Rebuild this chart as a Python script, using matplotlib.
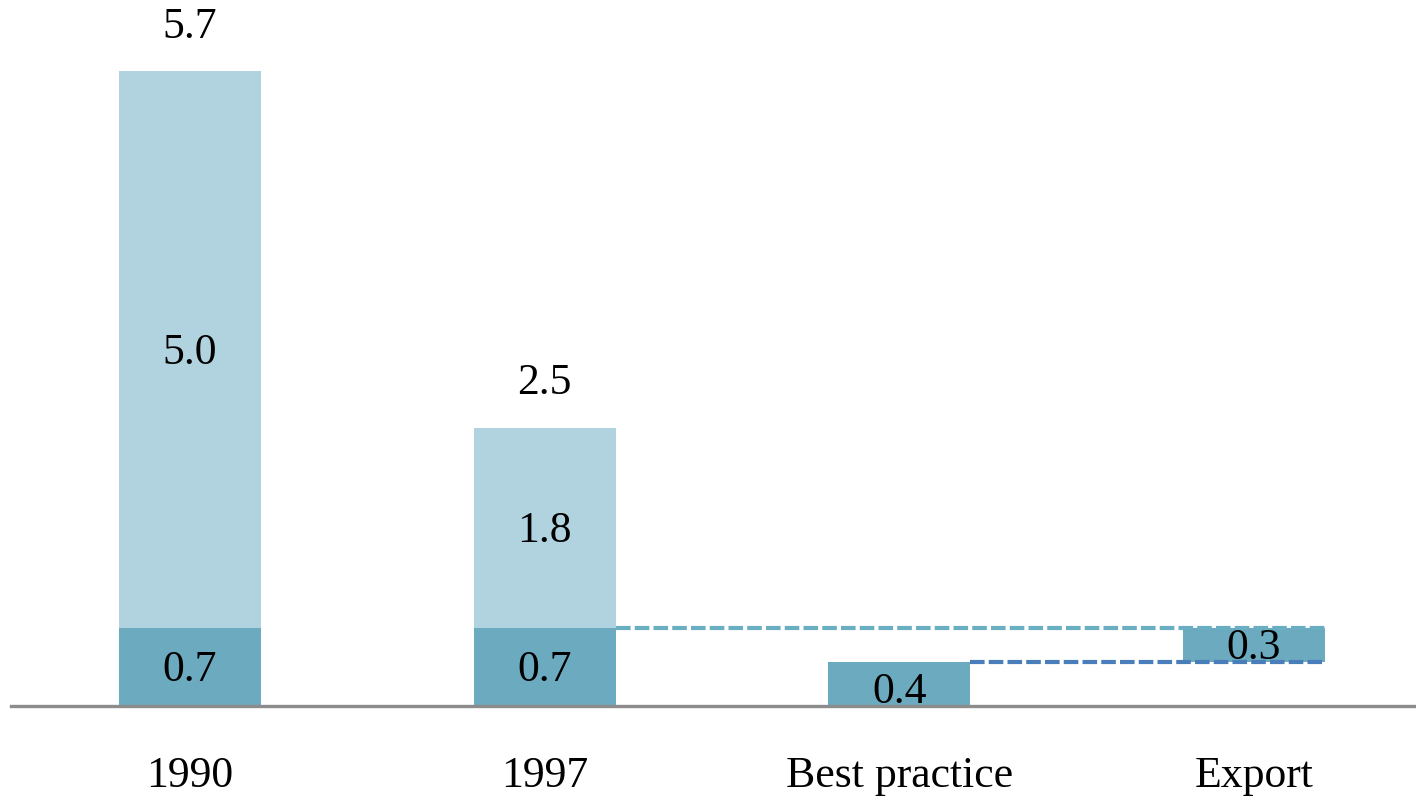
import numpy as np
import matplotlib.pyplot as plt

plt.rcParams['font.family'] = ['Liberation Serif', 'DejaVu Serif']

categories = ['1990', '1997', 'Best practice', 'Export']
base = [0.7, 0.7, 0.4, 0.3]          # dark segment
upper = [5.0, 1.8, 0.0, 0.0]         # light segment stacked on top
bottoms = [0.0, 0.0, 0.0, 0.4]       # export bar floats between best practice and 1997
totals = [5.7, 2.5, None, None]

dark = '#6BAABF'
light = '#B1D3DF'

fig = plt.figure(figsize=(14.16, 7.96), dpi=100)
ax = fig.add_axes([0.0078, 0.113, 0.9922, 0.887])

x = np.arange(len(categories))
w = 0.4
ax.bar(x, base, w, bottom=bottoms, color=dark, zorder=2)
ax.bar(x, upper, w, bottom=np.array(bottoms) + np.array(base), color=light, zorder=2)

# connector lines from 1997 and best practice to the export bar
ax.plot([1 + w / 2, 3 + w / 2], [base[1], base[1]], color='#6AAEC2',
        lw=3, dashes=(3.5, 1.0), zorder=3)
ax.plot([2 + w / 2, 3 + w / 2], [base[2], base[2]], color='#4A7EBB',
        lw=3, dashes=(3.5, 1.0), zorder=3)

fs = 31.5
nudge = -0.03  # pull labels down slightly from the geometric centre
for i in range(len(categories)):
    b0 = bottoms[i]
    off = -0.04 if i == 2 else 0.0
    ax.text(x[i], b0 + base[i] / 2 + off + nudge, f'{base[i]:.1f}', ha='center',
            va='center', fontsize=fs, zorder=4)
    if upper[i] > 0:
        ax.text(x[i], b0 + base[i] + upper[i] / 2 + nudge, f'{upper[i]:.1f}',
                ha='center', va='center', fontsize=fs, zorder=4)
    if totals[i] is not None:
        ax.text(x[i], totals[i] + 0.40, f'{totals[i]:.1f}', ha='center',
                va='center', fontsize=fs, zorder=4)

ax.set_xlim(-0.505, 3.457)
ax.set_ylim(0, 6.34)
ax.set_xticks(x)
ax.set_xticklabels(categories, fontsize=fs)
ax.tick_params(axis='x', length=0, pad=36)
ax.set_yticks([])
for s in ['top', 'right', 'left']:
    ax.spines[s].set_visible(False)
ax.spines['bottom'].set_color('#8C8C8C')
ax.spines['bottom'].set_linewidth(2.4)
ax.spines['bottom'].set_zorder(5)

fig.savefig('out.png', dpi=100)
